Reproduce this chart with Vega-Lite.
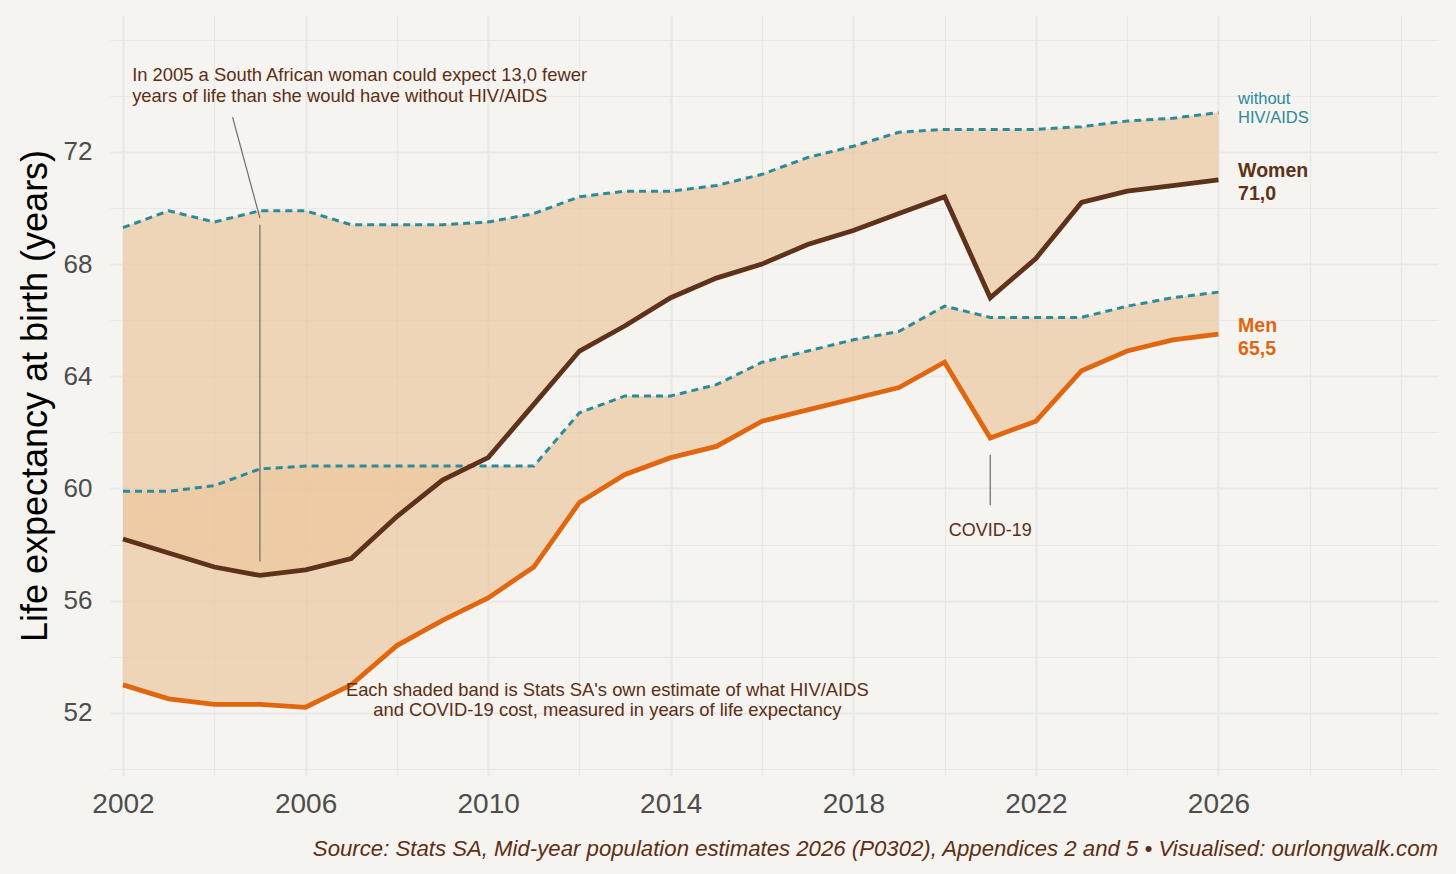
{
  "$schema": "https://vega.github.io/schema/vega-lite/v6.json",
  "width": 1328,
  "height": 761,
  "autosize": {"type": "none"},
  "padding": {"left": 110, "top": 15, "right": 18, "bottom": 98},
  "background": "#F5F4F0",
  "title": {
    "text": "Source: Stats SA, Mid-year population estimates 2026 (P0302), Appendices 2 and 5 • Visualised: ourlongwalk.com",
    "orient": "bottom",
    "anchor": "end",
    "fontSize": 22.2,
    "fontStyle": "italic",
    "fontWeight": "normal",
    "color": "#5C2E14",
    "font": "Liberation Sans",
    "offset": 20
  },
  "config": {
    "view": {"stroke": null},
    "font": "Liberation Sans",
    "axis": {"domain": false, "ticks": false, "gridColor": "#E8E8E8"}
  },
  "datasets": {
    "le": [
      {"year": 2002, "sex": "Women", "actual": 58.2, "without": 69.3},
      {"year": 2003, "sex": "Women", "actual": 57.7, "without": 69.9},
      {"year": 2004, "sex": "Women", "actual": 57.2, "without": 69.5},
      {"year": 2005, "sex": "Women", "actual": 56.9, "without": 69.9},
      {"year": 2006, "sex": "Women", "actual": 57.1, "without": 69.9},
      {"year": 2007, "sex": "Women", "actual": 57.5, "without": 69.4},
      {"year": 2008, "sex": "Women", "actual": 59.0, "without": 69.4},
      {"year": 2009, "sex": "Women", "actual": 60.3, "without": 69.4},
      {"year": 2010, "sex": "Women", "actual": 61.1, "without": 69.5},
      {"year": 2011, "sex": "Women", "actual": 63.0, "without": 69.8},
      {"year": 2012, "sex": "Women", "actual": 64.9, "without": 70.4},
      {"year": 2013, "sex": "Women", "actual": 65.8, "without": 70.6},
      {"year": 2014, "sex": "Women", "actual": 66.8, "without": 70.6},
      {"year": 2015, "sex": "Women", "actual": 67.5, "without": 70.8},
      {"year": 2016, "sex": "Women", "actual": 68.0, "without": 71.2},
      {"year": 2017, "sex": "Women", "actual": 68.7, "without": 71.8},
      {"year": 2018, "sex": "Women", "actual": 69.2, "without": 72.2},
      {"year": 2019, "sex": "Women", "actual": 69.8, "without": 72.7},
      {"year": 2020, "sex": "Women", "actual": 70.4, "without": 72.8},
      {"year": 2021, "sex": "Women", "actual": 66.8, "without": 72.8},
      {"year": 2022, "sex": "Women", "actual": 68.2, "without": 72.8},
      {"year": 2023, "sex": "Women", "actual": 70.2, "without": 72.9},
      {"year": 2024, "sex": "Women", "actual": 70.6, "without": 73.1},
      {"year": 2025, "sex": "Women", "actual": 70.8, "without": 73.2},
      {"year": 2026, "sex": "Women", "actual": 71.0, "without": 73.4},
      {"year": 2002, "sex": "Men", "actual": 53.0, "without": 59.9},
      {"year": 2003, "sex": "Men", "actual": 52.5, "without": 59.9},
      {"year": 2004, "sex": "Men", "actual": 52.3, "without": 60.1},
      {"year": 2005, "sex": "Men", "actual": 52.3, "without": 60.7},
      {"year": 2006, "sex": "Men", "actual": 52.2, "without": 60.8},
      {"year": 2007, "sex": "Men", "actual": 53.0, "without": 60.8},
      {"year": 2008, "sex": "Men", "actual": 54.4, "without": 60.8},
      {"year": 2009, "sex": "Men", "actual": 55.3, "without": 60.8},
      {"year": 2010, "sex": "Men", "actual": 56.1, "without": 60.8},
      {"year": 2011, "sex": "Men", "actual": 57.2, "without": 60.8},
      {"year": 2012, "sex": "Men", "actual": 59.5, "without": 62.7},
      {"year": 2013, "sex": "Men", "actual": 60.5, "without": 63.3},
      {"year": 2014, "sex": "Men", "actual": 61.1, "without": 63.3},
      {"year": 2015, "sex": "Men", "actual": 61.5, "without": 63.7},
      {"year": 2016, "sex": "Men", "actual": 62.4, "without": 64.5},
      {"year": 2017, "sex": "Men", "actual": 62.8, "without": 64.9},
      {"year": 2018, "sex": "Men", "actual": 63.2, "without": 65.3},
      {"year": 2019, "sex": "Men", "actual": 63.6, "without": 65.6},
      {"year": 2020, "sex": "Men", "actual": 64.5, "without": 66.5},
      {"year": 2021, "sex": "Men", "actual": 61.8, "without": 66.1},
      {"year": 2022, "sex": "Men", "actual": 62.4, "without": 66.1},
      {"year": 2023, "sex": "Men", "actual": 64.2, "without": 66.1},
      {"year": 2024, "sex": "Men", "actual": 64.9, "without": 66.5},
      {"year": 2025, "sex": "Men", "actual": 65.3, "without": 66.8},
      {"year": 2026, "sex": "Men", "actual": 65.5, "without": 67.0}
    ],
    "connectors": [
      {"x": 2004.4, "y": 73.24, "x2": 2005.0, "y2": 69.64},
      {"x": 2005.0, "y": 69.4, "x2": 2005.0, "y2": 57.4},
      {"x": 2021.0, "y": 61.2, "x2": 2021.0, "y2": 59.4}
    ],
    "notesLeft": [
      {"x": 2002.2, "y": 74.73, "label": "In 2005 a South African woman could expect 13,0 fewer\nyears of life than she would have without HIV/AIDS"}
    ],
    "notesCenter": [
      {"x": 2012.61, "y": 52.8, "label": "Each shaded band is Stats SA's own estimate of what HIV/AIDS\nand COVID-19 cost, measured in years of life expectancy"}
    ],
    "notesCovid": [
      {"x": 2021.0, "y": 58.5, "label": "COVID-19"}
    ],
    "endWithout": [
      {"x": 2026.43, "y": 73.9, "label": "without\nHIV/AIDS"}
    ],
    "endLabels": [
      {"x": 2026.43, "y": 71.33, "sex": "Women", "label": "Women\n71,0"},
      {"x": 2026.43, "y": 65.8, "sex": "Men", "label": "Men\n65,5"}
    ]
  },
  "layer": [
    {
      "data": {"name": "le"},
      "mark": {"type": "area", "color": "#EAC59C", "opacity": 0.68},
      "encoding": {
        "x": {
          "field": "year", "type": "quantitative",
          "scale": {"domain": [2001.715, 2030.81], "nice": false, "zero": false},
          "axis": {
            "title": null,
            "values": [2002, 2004, 2006, 2008, 2010, 2012, 2014, 2016, 2018, 2020, 2022, 2024, 2026, 2028, 2030],
            "format": "d",
            "labelExpr": "(datum.value - 2002) % 4 === 0 && datum.value <= 2026 ? datum.label : ''",
            "grid": true,
            "gridWidth": {"condition": {"test": "(datum.value - 2002) % 4 === 0 && datum.value <= 2026", "value": 2.2}, "value": 1.1},
            "labelFontSize": 28,
            "labelColor": "#4D4D4D",
            "labelPadding": 14,
            "labelBaseline": "top",
            "labelFlush": false
          }
        },
        "y": {
          "field": "actual", "type": "quantitative",
          "scale": {"domain": [49.75, 76.88], "nice": false, "zero": false},
          "axis": {
            "title": "Life expectancy at birth (years)",
            "titleFontSize": 36,
            "titleFontWeight": "normal",
            "titleColor": "#000000",
            "titleAngle": -90,
            "titleX": -75,
            "titleY": 380.5,
            "titleAlign": "center",
            "titleBaseline": "middle",
            "values": [50, 52, 54, 56, 58, 60, 62, 64, 66, 68, 70, 72, 74, 76],
            "labelExpr": "(datum.value - 52) % 4 === 0 && datum.value >= 52 && datum.value <= 72 ? datum.label : ''",
            "grid": true,
            "gridWidth": {"condition": {"test": "(datum.value - 52) % 4 === 0 && datum.value >= 52 && datum.value <= 72", "value": 2.2}, "value": 1.1},
            "labelFontSize": 26,
            "labelColor": "#4D4D4D",
            "labelPadding": 18,
            "labelFlush": false
          }
        },
        "y2": {"field": "without"},
        "detail": {"field": "sex", "type": "nominal"}
      }
    },
    {
      "data": {"name": "le"},
      "mark": {"type": "line", "color": "#2B8A9B", "strokeWidth": 3, "strokeDash": [7, 5]},
      "encoding": {
        "x": {"field": "year", "type": "quantitative"},
        "y": {"field": "without", "type": "quantitative"},
        "detail": {"field": "sex", "type": "nominal"}
      }
    },
    {
      "data": {"name": "le"},
      "mark": {"type": "line", "strokeWidth": 4.8, "strokeJoin": "miter"},
      "encoding": {
        "x": {"field": "year", "type": "quantitative"},
        "y": {"field": "actual", "type": "quantitative"},
        "color": {"field": "sex", "type": "nominal", "scale": {"domain": ["Women", "Men"], "range": ["#5E321A", "#E0660F"]}, "legend": null}
      }
    },
    {
      "data": {"name": "connectors"},
      "mark": {"type": "rule", "color": "#6B6B6B", "strokeWidth": 1.2},
      "encoding": {
        "x": {"field": "x", "type": "quantitative"},
        "y": {"field": "y", "type": "quantitative"},
        "x2": {"field": "x2"},
        "y2": {"field": "y2"}
      }
    },
    {
      "data": {"name": "notesLeft"},
      "mark": {"type": "text", "align": "left", "baseline": "middle", "fontSize": 18.4, "lineHeight": 20.5, "lineBreak": "\n", "color": "#5C2E14"},
      "encoding": {
        "x": {"field": "x", "type": "quantitative"},
        "y": {"field": "y", "type": "quantitative"},
        "text": {"field": "label"}
      }
    },
    {
      "data": {"name": "notesCenter"},
      "mark": {"type": "text", "align": "center", "baseline": "middle", "fontSize": 18.4, "lineHeight": 20, "lineBreak": "\n", "color": "#5C2E14"},
      "encoding": {
        "x": {"field": "x", "type": "quantitative"},
        "y": {"field": "y", "type": "quantitative"},
        "text": {"field": "label"}
      }
    },
    {
      "data": {"name": "notesCovid"},
      "mark": {"type": "text", "align": "center", "baseline": "middle", "fontSize": 18, "color": "#5C2E14"},
      "encoding": {
        "x": {"field": "x", "type": "quantitative"},
        "y": {"field": "y", "type": "quantitative"},
        "text": {"field": "label"}
      }
    },
    {
      "data": {"name": "endWithout"},
      "mark": {"type": "text", "align": "left", "baseline": "middle", "fontSize": 16.5, "lineHeight": 19, "lineBreak": "\n", "color": "#2B8A9B"},
      "encoding": {
        "x": {"field": "x", "type": "quantitative"},
        "y": {"field": "y", "type": "quantitative"},
        "text": {"field": "label"}
      }
    },
    {
      "data": {"name": "endLabels"},
      "mark": {"type": "text", "align": "left", "baseline": "middle", "fontSize": 19.5, "fontWeight": "bold", "lineHeight": 23, "lineBreak": "\n"},
      "encoding": {
        "x": {"field": "x", "type": "quantitative"},
        "y": {"field": "y", "type": "quantitative"},
        "text": {"field": "label"},
        "color": {"field": "sex", "type": "nominal", "legend": null}
      }
    }
  ]
}
